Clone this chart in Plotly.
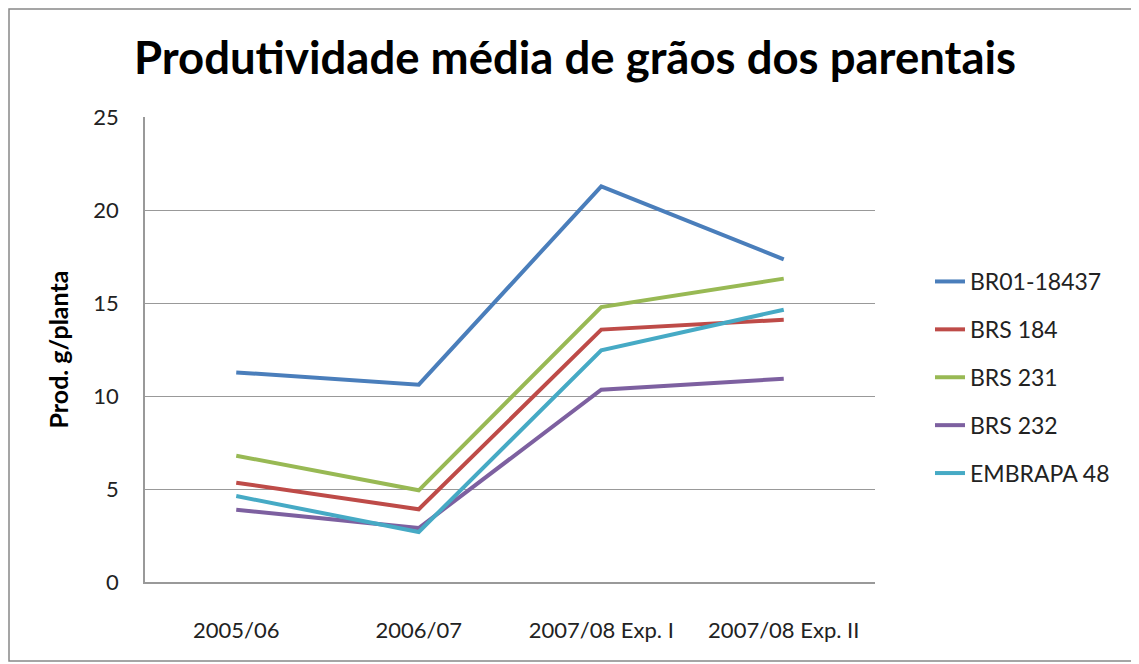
import plotly.graph_objects as go

categories = ["2005/06", "2006/07", "2007/08 Exp. I", "2007/08 Exp. II"]
series_names = ["BR01-18437", "BRS 184", "BRS 231", "BRS 232", "EMBRAPA 48"]
br01_18437 = [11.27, 10.61, 21.27, 17.35]
brs_184 = [5.34, 3.91, 13.57, 14.10]
brs_231 = [6.79, 4.93, 14.78, 16.31]
brs_232 = [3.89, 2.90, 10.34, 10.93]
embrapa_48 = [4.62, 2.69, 12.46, 14.64]
colors = ["#4A7EBB", "#BE4B48", "#98B954", "#7D60A0", "#46AAC5"]

values = [br01_18437, brs_184, brs_231, brs_232, embrapa_48]

fig = go.Figure()
for name, vals, col in zip(series_names, values, colors):
    fig.add_trace(go.Scatter(
        x=list(range(len(categories))), y=vals, name=name, mode="lines",
        line=dict(color=col, width=4), legendgroup=name,
    ))

# page has an 8px body margin, compensate
OFF = 8
W, H = 1139 - OFF, 664 - OFF
L, T = 145 - OFF, 117 - OFF
pw, ph = 730, 465
R = W - L - pw
B = H - T - ph

def px(x):
    return (x - OFF - L) / pw

def py(y):
    return (T + ph - (y - OFF)) / ph

fig.update_layout(
    width=W, height=H,
    margin=dict(l=L, r=R, t=T, b=B),
    paper_bgcolor="white", plot_bgcolor="white",
    font=dict(family="Lato, Open Sans, sans-serif", color="#222"),
    title=dict(text="<b>Produtividade média de grãos dos parentais</b>",
               x=px(575), xanchor="center", xref="paper",
               y=1 - (58 - OFF) / H, yanchor="middle",
               font=dict(size=45.5, color="#000", family="Lato")),
    xaxis=dict(
        tickmode="array", tickvals=list(range(len(categories))), ticktext=categories,
        range=[-0.5, 3.5], showgrid=False, showline=True, linecolor="#999",
        linewidth=1.5, ticks="", tickfont=dict(size=22, color="#222"),
        ticklabelstandoff=28, zeroline=False,
    ),
    yaxis=dict(
        range=[0, 25], tickvals=[0, 5, 10, 15, 20, 25], showgrid=True,
        gridcolor="#999", gridwidth=1.2, showline=True, linecolor="#999",
        linewidth=1.5, ticks="", tickfont=dict(size=22, color="#222"),
        ticklabelstandoff=20, zeroline=False,
        title=dict(text="<b>Prod. g/planta</b>", font=dict(size=25, color="#000"),
                   standoff=18),
    ),
    legend=dict(
        x=px(930), y=py(260), xanchor="left", yanchor="top",
        font=dict(size=23, color="#222"), tracegroupgap=15,
        bgcolor="rgba(0,0,0,0)",
    ),
    showlegend=True,
)

fig.add_shape(type="rect", xref="paper", yref="paper",
              x0=-L / pw + 1 / pw, x1=px(1135), y0=py(661), y1=(T + ph - 1) / ph,
              line=dict(color="#888", width=1.5), layer="below")

fig.write_html("out.html")
